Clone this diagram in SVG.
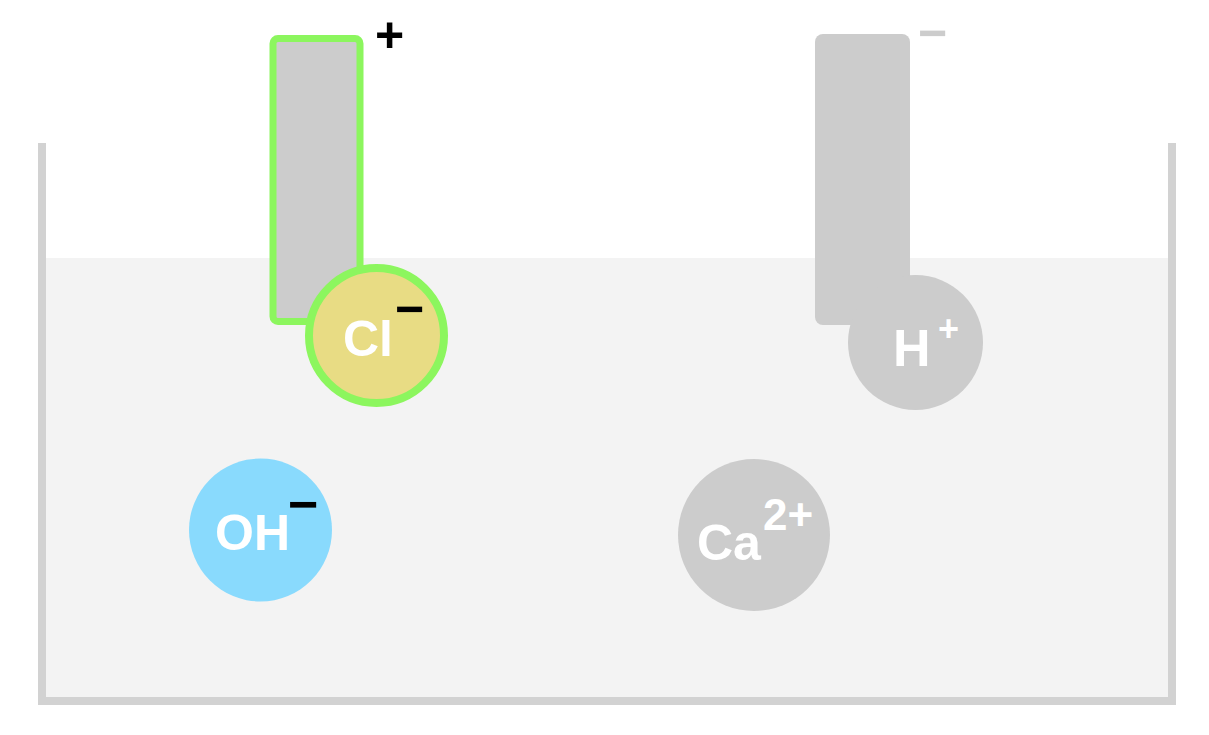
<svg xmlns="http://www.w3.org/2000/svg" width="1209" height="735" viewBox="0 0 1209 735">
<style>
.t{font-family:"Liberation Sans",Arial,sans-serif;font-weight:bold;fill:#ffffff}
.s{font-family:"Liberation Sans",Arial,sans-serif;font-weight:bold}
.gray{fill:#cccccc}
</style>
<rect width="1209" height="735" fill="#ffffff"/>
<g id="container">
<rect x="46" y="258" width="1122" height="439" fill="#f3f3f3"/>
<polyline points="42,143 42,701 1172,701 1172,143" fill="none" stroke="#d2d2d2" stroke-width="8"/>
</g>
<g id="anode">
<rect x="273" y="38.5" width="87" height="283" rx="5" fill="#cccccc" stroke="#8cf65e" stroke-width="7"/>
<text class="s" x="375" y="52" font-size="50" fill="#000000">+</text>
</g>
<g id="cathode">
<rect x="815" y="34" width="95" height="291" rx="8" class="gray"/>
<text class="s" x="918" y="50" font-size="50" fill="#cccccc">−</text>
</g>
<g id="ion-cl">
<circle cx="376.5" cy="335.5" r="67.5" fill="#e8dc84" stroke="#8cf65e" stroke-width="8"/>
<text class="t" x="343" y="356" font-size="50">Cl</text>
<text class="s" x="395" y="326" font-size="50" fill="#000000">−</text>
</g>
<g id="ion-h">
<circle cx="915.5" cy="342.5" r="67.5" class="gray"/>
<text class="t" x="893" y="366" font-size="52">H</text>
<text class="t" x="938" y="341" font-size="36">+</text>
</g>
<g id="ion-oh">
<circle cx="260.5" cy="530" r="71.5" fill="#89dafd"/>
<text class="t" x="215" y="550" font-size="50">OH</text>
<text class="s" x="288" y="522" font-size="52" fill="#000000">−</text>
</g>
<g id="ion-ca">
<circle cx="754" cy="535" r="76" class="gray"/>
<text class="t" x="697" y="560" font-size="50">Ca</text>
<text class="t" x="763" y="530" font-size="44">2+</text>
</g>
<g id="connectors"></g>
</svg>
